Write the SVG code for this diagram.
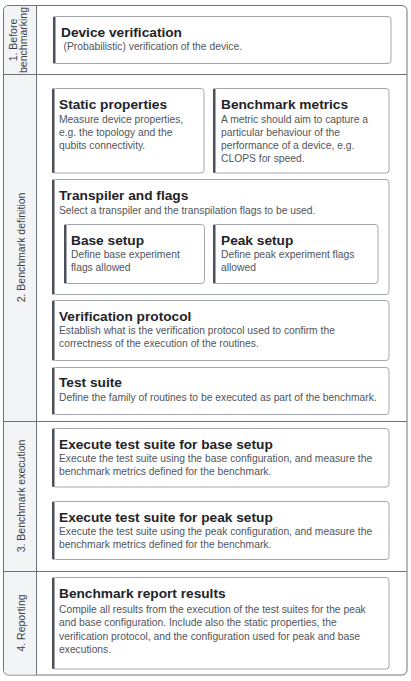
<svg xmlns="http://www.w3.org/2000/svg" width="411" height="681" viewBox="0 0 411 681">
<style>
.frame{fill:#ffffff;stroke:#6f7378;stroke-width:1}
.sep{stroke:#6f7378;stroke-width:1;fill:none}
.col{fill:#f3f4f6}
.box{fill:#ffffff;stroke:#a3a7ad;stroke-width:1}
.bar{fill:#4b5058}
.t{font-family:"Liberation Sans",Arial,sans-serif;font-weight:bold;font-size:13.7px;fill:#1f2328}
.d{font-family:"Liberation Sans",Arial,sans-serif;font-size:10.3px;fill:#50555c}
.lab{font-family:"Liberation Sans",Arial,sans-serif;font-size:10.5px;fill:#3c4046;text-anchor:middle}
</style>
<g id="frame">
<rect class="frame" x="3.5" y="5.5" width="403.5" height="669.5" rx="5"/>
<path class="col" d="M8.5,6 H36 V674.5 H8.5 A4.5,4.5 0 0 1 4,670 V10.5 A4.5,4.5 0 0 1 8.5,6 Z"/>
<line class="sep" x1="36.5" y1="5.5" x2="36.5" y2="675"/>
<line class="sep" x1="3.5" y1="74.5" x2="407" y2="74.5"/>
<line class="sep" x1="3.5" y1="421.5" x2="407" y2="421.5"/>
<line class="sep" x1="3.5" y1="571.5" x2="407" y2="571.5"/>
</g>
<g id="labels">
<text class="lab" transform="translate(16.7,40) rotate(-90)">1. Before</text>
<text class="lab" transform="translate(26.7,40) rotate(-90)">benchmarking</text>
<text class="lab" transform="translate(24.7,247.5) rotate(-90)">2. Benchmark definition</text>
<text class="lab" transform="translate(24.7,496) rotate(-90)">3. Benchmark execution</text>
<text class="lab" transform="translate(24.7,623) rotate(-90)">4. Reporting</text>
</g>
<g id="device-verification">
<rect class="box" x="53.5" y="16.5" width="337.5" height="47" rx="3"/>
<rect class="bar" x="53" y="16.5" width="2.5" height="47" rx="1.2"/>
<text class="t" x="61" y="36.5">Device verification</text>
<text class="d" x="63.5" y="50">(Probabilistic) verification of the device.</text>
</g>
<g id="static-properties">
<rect class="box" x="52.5" y="88.5" width="151.5" height="84.5" rx="3"/>
<rect class="bar" x="52" y="88.5" width="2.5" height="84.5" rx="1.2"/>
<text class="t" x="59" y="109">Static properties</text>
<text class="d" x="59" y="123.3">Measure device properties,</text>
<text class="d" x="59" y="136.3">e.g. the topology and the</text>
<text class="d" x="59" y="149.3">qubits connectivity.</text>
</g>
<g id="benchmark-metrics">
<rect class="box" x="213.5" y="88.5" width="175.5" height="84.5" rx="3"/>
<rect class="bar" x="213" y="88.5" width="2.5" height="84.5" rx="1.2"/>
<text class="t" x="221" y="109">Benchmark metrics</text>
<text class="d" x="221" y="123.3">A metric should aim to capture a</text>
<text class="d" x="221" y="136.3">particular behaviour of the</text>
<text class="d" x="221" y="149.3">performance of a device, e.g.</text>
<text class="d" x="221" y="162.3">CLOPS for speed.</text>
</g>
<g id="transpiler-and-flags">
<rect class="box" x="52.5" y="179.5" width="336.5" height="115" rx="3"/>
<rect class="bar" x="52" y="179.5" width="2.5" height="115" rx="1.2"/>
<text class="t" x="59" y="200">Transpiler and flags</text>
<text class="d" x="59" y="213.5">Select a transpiler and the transpilation flags to be used.</text>
</g>
<g id="base-setup">
<rect class="box" x="64.5" y="224.5" width="140" height="59" rx="3"/>
<rect class="bar" x="64" y="224.5" width="2.5" height="59" rx="1.2"/>
<text class="t" x="71" y="244.5">Base setup</text>
<text class="d" x="71" y="257.5">Define base experiment</text>
<text class="d" x="71" y="270.5">flags allowed</text>
</g>
<g id="peak-setup">
<rect class="box" x="213.5" y="224.5" width="164.5" height="59" rx="3"/>
<rect class="bar" x="213" y="224.5" width="2.5" height="59" rx="1.2"/>
<text class="t" x="221" y="244.5">Peak setup</text>
<text class="d" x="221" y="257.5">Define peak experiment flags</text>
<text class="d" x="221" y="270.5">allowed</text>
</g>
<g id="verification-protocol">
<rect class="box" x="52.5" y="300.5" width="336.5" height="60" rx="3"/>
<rect class="bar" x="52" y="300.5" width="2.5" height="60" rx="1.2"/>
<text class="t" x="59" y="320.5">Verification protocol</text>
<text class="d" x="59" y="334">Establish what is the verification protocol used to confirm the</text>
<text class="d" x="59" y="347">correctness of the execution of the routines.</text>
</g>
<g id="test-suite">
<rect class="box" x="52.5" y="367.5" width="336.5" height="47" rx="3"/>
<rect class="bar" x="52" y="367.5" width="2.5" height="47" rx="1.2"/>
<text class="t" x="59" y="387">Test suite</text>
<text class="d" x="59" y="401">Define the family of routines to be executed as part of the benchmark.</text>
</g>
<g id="execute-base">
<rect class="box" x="52.5" y="428.5" width="336.5" height="58.5" rx="3"/>
<rect class="bar" x="52" y="428.5" width="2.5" height="58.5" rx="1.2"/>
<text class="t" x="59" y="449">Execute test suite for base setup</text>
<text class="d" x="59" y="461.5">Execute the test suite using the base configuration, and measure the</text>
<text class="d" x="59" y="474.5">benchmark metrics defined for the benchmark.</text>
</g>
<g id="execute-peak">
<rect class="box" x="52.5" y="501.5" width="336.5" height="58" rx="3"/>
<rect class="bar" x="52" y="501.5" width="2.5" height="58" rx="1.2"/>
<text class="t" x="59" y="521.5">Execute test suite for peak setup</text>
<text class="d" x="59" y="534.5">Execute the test suite using the peak configuration, and measure the</text>
<text class="d" x="59" y="547.5">benchmark metrics defined for the benchmark.</text>
</g>
<g id="benchmark-report">
<rect class="box" x="52.5" y="577.5" width="336.5" height="91.5" rx="3"/>
<rect class="bar" x="52" y="577.5" width="2.5" height="91.5" rx="1.2"/>
<text class="t" x="59" y="597.5">Benchmark report results</text>
<text class="d" x="59" y="613">Compile all results from the execution of the test suites for the peak</text>
<text class="d" x="59" y="626.3">and base configuration. Include also the static properties, the</text>
<text class="d" x="59" y="639.6">verification protocol, and the configuration used for peak and base</text>
<text class="d" x="59" y="652.9">executions.</text>
</g>
<g id="connectors"></g>
</svg>
